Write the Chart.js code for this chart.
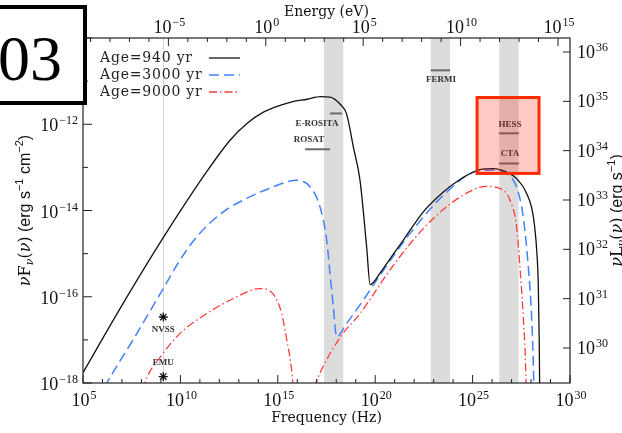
<!DOCTYPE html>
<html>
<head>
<meta charset="utf-8">
<script src="https://cdn.jsdelivr.net/npm/chart.js@4/dist/chart.umd.min.js"></script>
<style>
  html, body { margin: 0; padding: 0; background: #fff; }
  #wrap { position: relative; width: 622px; height: 433px; overflow: hidden; }
</style>
</head>
<body>
<div id="wrap"><canvas id="sed" width="622" height="433"></canvas></div>
<script>
// Planck constant, eV s (frequency -> photon energy on the top axis)
const H_EV = 4.1357e-15;

// axis limits, log10
const nuRange = [5, 30];          // Hz
const fluxRange = [-18, -10];     // erg s^-1 cm^-2
const lumRange = [29.29, 36.284]; // erg s^-1

const ages = ['Age=940 yr', 'Age=3000 yr', 'Age=9000 yr'];

// SED curves, log10(nu) / log10(nu F_nu)
const nu940 = [5.0, 7.0, 9.12, 11.35, 12.55, 13.4, 14.26, 15.63, 16.5, 17.2, 17.68, 18.19, 18.53, 18.88, 19.22, 19.56,
  19.74, 20.25, 20.59, 21.44, 22.47, 23.5, 24.35, 25.38, 26.06, 26.75, 27.26, 27.78, 28.12, 28.29, 28.37, 28.42, 28.45];
const f940 = [-17.76, -16.2, -14.63, -13.1, -12.37, -11.99, -11.72, -11.49, -11.42, -11.36, -11.37, -11.53, -11.76, -12.53, -13.3, -14.84,
  -15.72, -15.45, -15.23, -14.69, -14.03, -13.57, -13.28, -13.05, -13.03, -13.11, -13.26, -13.61, -14.15, -14.92, -15.69, -17.0, -18.5];

const nu3000 = [6.1, 6.22, 7.7, 9.12, 9.98, 10.84, 12.2, 13.4, 14.5, 15.97, 16.65, 17.17, 17.51, 17.68, 17.85, 18.02,
  18.53, 19.22, 20.25, 21.79, 23.5, 25.2, 26.06, 26.75, 27.26, 27.6, 27.86, 28.03, 28.12, 28.16];
const f3000 = [-18.1, -18.0, -16.9, -15.81, -15.15, -14.61, -14.03, -13.72, -13.5, -13.3, -13.45, -13.92, -14.69, -15.46, -16.23, -16.93,
  -16.62, -16.19, -15.5, -14.53, -13.65, -13.09, -13.06, -13.15, -13.46, -14.15, -15.31, -16.47, -17.62, -18.5];

const nu9000 = [8.1, 8.18, 9.12, 9.98, 11.35, 12.72, 14.09, 14.77, 15.2, 15.46, 15.71, 15.82, 16.4,
  16.88, 16.95, 18.19, 19.22, 20.93, 22.64, 24.35, 25.72, 26.41, 26.92, 27.26, 27.43, 27.6, 27.72, 27.76];
const f9000 = [-18.15, -18.0, -17.31, -16.85, -16.39, -16.04, -15.81, -15.94, -16.39, -17.0, -17.7, -18.3, null,
  -18.1, -18.0, -16.95, -16.39, -15.27, -14.34, -13.69, -13.44, -13.49, -13.76, -14.38, -15.31, -16.47, -17.62, -18.5];

// radio points (NVSS, EMU)
const radioNames = ['NVSS', 'EMU'];
const radioNu = [9.12, 9.12];
const radioF = [-16.47, -17.85];
const radioLabelF = [-16.77, -17.54];

// instrument sensitivities: bar from nuLo to nuHi at level F, label anchor
const instNames = ['E-ROSITA', 'ROSAT', 'FERMI', 'HESS', 'CTA'];
const instNuLo = [17.68, 16.4, 22.85, 26.35, 26.35];
const instNuHi = [18.29, 17.68, 23.85, 27.38, 27.38];
const instF = [-11.75, -12.58, -10.75, -12.21, -12.91];
const instLabelNu = [17.01, 16.6, 23.38, 26.92, 26.92];
const instLabelF = [-11.98, -12.35, -10.96, -12.0, -12.69];

// observing bands (shaded), log10(nu)
const bandLo = [17.37, 22.85, 26.37];
const bandHi = [18.36, 23.84, 27.36];

// highlighted region
const hlNu = [25.23, 28.41];
const hlF = [-11.38, -13.14];

function pts(nu, f) {
  return nu.map((v, i) => ({ x: Math.pow(10, v), y: f[i] === null ? null : Math.pow(10, f[i]) }));
}

function drawPow(ctx, exp, x, y, align) {
  const base = '10', sup = String(exp).replace('-', '−');
  ctx.font = '18px "Liberation Serif"';
  const wb = ctx.measureText(base).width;
  ctx.font = '12px "Liberation Serif"';
  const ws = ctx.measureText(sup).width;
  const w = wb + ws + 1;
  const x0 = align === 'right' ? x - w : align === 'center' ? x - w / 2 : x;
  ctx.textAlign = 'left';
  ctx.textBaseline = 'alphabetic';
  ctx.font = '18px "Liberation Serif"';
  ctx.fillText(base, x0, y + 6);
  ctx.font = '12px "Liberation Serif"';
  ctx.fillText(sup, x0 + wb + 1, y - 1);
}

function drawRuns(ctx, runs, cx, cy) {
  let w = 0;
  runs.forEach(r => { ctx.font = r.f; r.w = ctx.measureText(r.t).width; w += r.w; });
  let x = cx - w / 2;
  ctx.textAlign = 'left';
  ctx.textBaseline = 'alphabetic';
  runs.forEach(r => { ctx.font = r.f; ctx.fillText(r.t, x, cy + 5 + (r.dy || 0)); x += r.w; });
}

const sedDecor = {
  id: 'sedDecor',
  beforeDatasetsDraw(chart) {
    const { ctx, chartArea: a, scales: { x } } = chart;
    ctx.save();
    ctx.fillStyle = '#dcdcdc';
    bandLo.forEach((lo, i) => {
      const x0 = x.getPixelForValue(Math.pow(10, lo));
      const x1 = x.getPixelForValue(Math.pow(10, bandHi[i]));
      ctx.fillRect(x0, a.top, x1 - x0, a.bottom - a.top);
    });
    // radio frequency marker line
    const xr = Math.round(x.getPixelForValue(Math.pow(10, radioNu[0]))) + 0.5;
    ctx.strokeStyle = '#d4d4d4';
    ctx.lineWidth = 1;
    ctx.beginPath(); ctx.moveTo(xr, a.top); ctx.lineTo(xr, a.bottom); ctx.stroke();
    ctx.restore();
  },
  afterDatasetsDraw(chart) {
    const { ctx, chartArea: a, scales: { x, y, x2, y2 } } = chart;
    const px = v => x.getPixelForValue(Math.pow(10, v));
    const py = v => y.getPixelForValue(Math.pow(10, v));
    ctx.save();

    // instrument bars and labels
    ctx.strokeStyle = '#6a6a6a';
    ctx.lineWidth = 2;
    ctx.fillStyle = '#333';
    ctx.font = 'bold 9px "Liberation Serif"';
    ctx.textAlign = 'center';
    ctx.textBaseline = 'middle';
    instNames.forEach((n, i) => {
      ctx.beginPath();
      ctx.moveTo(px(instNuLo[i]), py(instF[i]));
      ctx.lineTo(px(instNuHi[i]), py(instF[i]));
      ctx.stroke();
      ctx.fillText(n, px(instLabelNu[i]), py(instLabelF[i]));
    });
    radioNames.forEach((n, i) => ctx.fillText(n, px(radioNu[i]), py(radioLabelF[i])));

    // highlighted region
    const hx0 = px(hlNu[0]), hx1 = px(hlNu[1]);
    const hy0 = py(hlF[0]), hy1 = py(hlF[1]);
    ctx.fillStyle = 'rgba(255, 20, 0, 0.23)';
    ctx.fillRect(hx0, hy0, hx1 - hx0, hy1 - hy0);
    ctx.strokeStyle = '#ff2a00';
    ctx.lineWidth = 3;
    ctx.strokeRect(hx0, hy0, hx1 - hx0, hy1 - hy0);

    // frame
    ctx.strokeStyle = '#222';
    ctx.lineWidth = 1.2;
    ctx.strokeRect(a.left, a.top, a.right - a.left, a.bottom - a.top);

    ctx.fillStyle = '#111';
    ctx.lineWidth = 1;
    ctx.beginPath();
    // bottom: frequency
    for (let d = nuRange[0]; d <= nuRange[1]; d++) {
      const t = px(d), len = d % 5 === 0 ? 8 : 4;
      ctx.moveTo(t, a.bottom); ctx.lineTo(t, a.bottom - len);
    }
    // top: energy
    for (let d = -9; d <= 15; d++) {
      const t = x2.getPixelForValue(Math.pow(10, d)), len = d % 5 === 0 ? 8 : 4;
      ctx.moveTo(t, a.top); ctx.lineTo(t, a.top + len);
    }
    // left: flux
    for (let d = fluxRange[0]; d <= fluxRange[1]; d++) {
      const t = py(d), len = d % 2 === 0 ? 9 : 5;
      ctx.moveTo(a.left, t); ctx.lineTo(a.left + len, t);
    }
    // right: luminosity
    for (let d = 30; d <= 36; d++) {
      const t = y2.getPixelForValue(Math.pow(10, d));
      ctx.moveTo(a.right, t); ctx.lineTo(a.right - 7, t);
    }
    ctx.stroke();

    for (let d = nuRange[0]; d <= nuRange[1]; d += 5) drawPow(ctx, d, px(d) + 1, a.bottom + 17, 'center');
    for (let d = -5; d <= 15; d += 5) drawPow(ctx, d, x2.getPixelForValue(Math.pow(10, d)) + 1, a.top - 11, 'center');
    for (let d = fluxRange[0]; d <= fluxRange[1]; d += 2) drawPow(ctx, d, a.left - 5, py(d) + 1, 'right');
    for (let d = 30; d <= 36; d++) drawPow(ctx, d, a.right + 7, y2.getPixelForValue(Math.pow(10, d)), 'left');

    // axis titles
    ctx.font = '14px "DejaVu Serif"';
    ctx.textAlign = 'center';
    ctx.textBaseline = 'middle';
    ctx.fillText('Frequency (Hz)', (a.left + a.right) / 2 + 0, a.bottom + 35);
    ctx.fillText('Energy (eV)', (a.left + a.right) / 2 + 0, a.top - 26);

    const sym = 'italic 16px "DejaVu Serif"', rom = '16px "DejaVu Serif"';
    const sans = '16px "Liberation Sans"', sub = 'italic 11px "DejaVu Serif"', sup = '11px "Liberation Sans"';
    const cy = (a.top + a.bottom) / 2;
    ctx.save();
    ctx.translate(25, cy);
    ctx.rotate(-Math.PI / 2);
    drawRuns(ctx, [{ t: 'ν', f: sym }, { t: 'F', f: rom }, { t: 'ν', f: sub, dy: 3 }, { t: '(', f: rom }, { t: 'ν', f: sym },
      { t: ')', f: rom }, { t: ' (erg s', f: sans }, { t: '−1', f: sup, dy: -7 }, { t: ' cm', f: sans },
      { t: '−2', f: sup, dy: -7 }, { t: ')', f: sans }], 0, 0);
    ctx.restore();
    ctx.save();
    ctx.translate(617, cy);
    ctx.rotate(-Math.PI / 2);
    drawRuns(ctx, [{ t: 'ν', f: sym }, { t: 'L', f: rom }, { t: 'ν', f: sub, dy: 3 }, { t: '(', f: rom }, { t: 'ν', f: sym },
      { t: ')', f: rom }, { t: ' (erg s', f: sans }, { t: '−1', f: sup, dy: -7 }, { t: ')', f: sans }], 0, 0);
    ctx.restore();

    // legend: label then line sample
    ctx.font = '14px "DejaVu Serif"';
    ctx.letterSpacing = '0.8px';
    ctx.textAlign = 'left';
    ctx.textBaseline = 'alphabetic';
    const rows = [62, 79, 96];
    chart.data.datasets.slice(0, 3).forEach((ds, i) => {
      ctx.fillStyle = '#222';
      ctx.fillText(ds.label, a.left + 17, rows[i]);
      ctx.strokeStyle = ds.borderColor;
      ctx.lineWidth = ds.borderWidth;
      ctx.setLineDash(ds.borderDash || []);
      ctx.beginPath();
      ctx.moveTo(a.left + 126, rows[i] - 4);
      ctx.lineTo(a.left + 157, rows[i] - 4);
      ctx.stroke();
      ctx.setLineDash([]);
    });
    ctx.letterSpacing = '0px';
    ctx.restore();
  },
  afterDraw(chart) {
    // panel tag
    const { ctx } = chart;
    ctx.save();
    ctx.fillStyle = '#fff';
    ctx.fillRect(-4, 7, 89, 96);
    ctx.strokeStyle = '#000';
    ctx.lineWidth = 4;
    ctx.strokeRect(-4, 7, 89, 96);
    ctx.fillStyle = '#000';
    ctx.font = '64px "Liberation Serif"';
    ctx.textAlign = 'left';
    ctx.textBaseline = 'alphabetic';
    ctx.fillText('03', -2, 80);
    ctx.restore();
  }
};

new Chart(document.getElementById('sed'), {
  type: 'line',
  data: {
    datasets: [
      { label: ages[0], data: pts(nu940, f940), borderColor: '#111', borderWidth: 1.3 },
      { label: ages[1], data: pts(nu3000, f3000), borderColor: '#4580ff', borderWidth: 1.5, borderDash: [10, 5] },
      { label: ages[2], data: pts(nu9000, f9000), borderColor: '#ff3c3c', borderWidth: 1.3, borderDash: [8, 3, 1.5, 3] },
      { label: 'radio', data: pts(radioNu, radioF), showLine: false, pointStyle: 'star', pointRadius: 4.5,
        borderColor: '#111', borderWidth: 1.3 }
    ]
  },
  options: {
    responsive: false,
    animation: false,
    devicePixelRatio: 1,
    layout: { padding: { left: 83, right: 52, top: 38, bottom: 50 } },
    elements: {
      line: { cubicInterpolationMode: 'monotone', fill: false },
      point: { radius: 0 }
    },
    plugins: { legend: { display: false }, tooltip: { enabled: false } },
    scales: {
      x: { type: 'logarithmic', display: false, min: Math.pow(10, nuRange[0]), max: Math.pow(10, nuRange[1]) },
      y: { type: 'logarithmic', display: false, min: Math.pow(10, fluxRange[0]), max: Math.pow(10, fluxRange[1]) },
      x2: { type: 'logarithmic', axis: 'x', display: false,
        min: H_EV * Math.pow(10, nuRange[0]), max: H_EV * Math.pow(10, nuRange[1]) },
      y2: { type: 'logarithmic', axis: 'y', display: false,
        min: Math.pow(10, lumRange[0]), max: Math.pow(10, lumRange[1]) }
    }
  },
  plugins: [sedDecor]
});
</script>
</body>
</html>
